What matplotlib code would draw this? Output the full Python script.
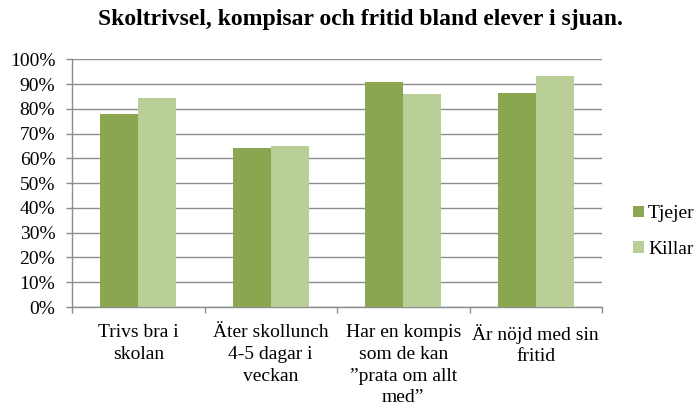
import numpy as np
import matplotlib
matplotlib.use('Agg')
import matplotlib.pyplot as plt
from matplotlib.ticker import PercentFormatter

plt.rcParams['font.family'] = 'serif'
plt.rcParams['font.serif'] = ['Liberation Serif', 'DejaVu Serif']

categories = ['Trivs bra i\nskolan', 'Äter skollunch\n4-5 dagar i\nveckan',
              'Har en kompis\nsom de kan\n”prata om allt\nmed”', 'Är nöjd med sin\nfritid']
tjejer = [0.78, 0.643, 0.907, 0.864]
killar = [0.843, 0.651, 0.859, 0.934]

c_tjejer = '#8BA650'
c_killar = '#BACF98'
grid_col = '#8C8C8C'

fig = plt.figure(figsize=(6.99, 4.07), dpi=100)
ax = fig.add_axes([72 / 699, 1 - 307 / 407, 530 / 699, (307 - 59.3) / 407])

x = np.arange(len(categories))
w = 0.285
ax.bar(x - w / 2, tjejer, w, color=c_tjejer, label='Tjejer', zorder=3)
ax.bar(x + w / 2, killar, w, color=c_killar, label='Killar', zorder=3)

ax.set_xlim(-0.5, len(categories) - 0.5)
ax.set_ylim(0, 1)
ax.set_yticks(np.arange(0, 1.01, 0.1))
ax.yaxis.set_major_formatter(PercentFormatter(1.0, decimals=0))
ax.yaxis.grid(True, color=grid_col, linewidth=1.0, zorder=0)

ax.set_xticks(np.arange(-0.5, len(categories), 1.0))
ax.set_xticklabels([])
ax.set_xticks(x, minor=True)
ax.set_xticklabels(categories, minor=True, fontsize=14, va='top', linespacing=1.38)
ax.tick_params(axis='x', which='minor', length=0, pad=12)
ax.tick_params(axis='x', which='major', length=4, color=grid_col, width=1)
ax.tick_params(axis='y', length=4, color=grid_col, width=1, labelsize=14, pad=8)

for s in ['top', 'right']:
    ax.spines[s].set_visible(False)
for s in ['left', 'bottom']:
    ax.spines[s].set_color(grid_col)
    ax.spines[s].set_linewidth(1.0)

fig.text(360 / 699, 1 - 20 / 407, 'Skoltrivsel, kompisar och fritid bland elever i sjuan.',
         ha='center', va='center', fontsize=17, fontweight='bold')

ax.legend(loc='center left', bbox_to_anchor=(633 / 699, 1 - 231.5 / 407),
          bbox_transform=fig.transFigure, frameon=False, fontsize=14,
          borderpad=0, borderaxespad=0,
          handlelength=0.57, handleheight=0.52, handletextpad=0.2, labelspacing=0.95)

fig.savefig('out.png', dpi=100)
